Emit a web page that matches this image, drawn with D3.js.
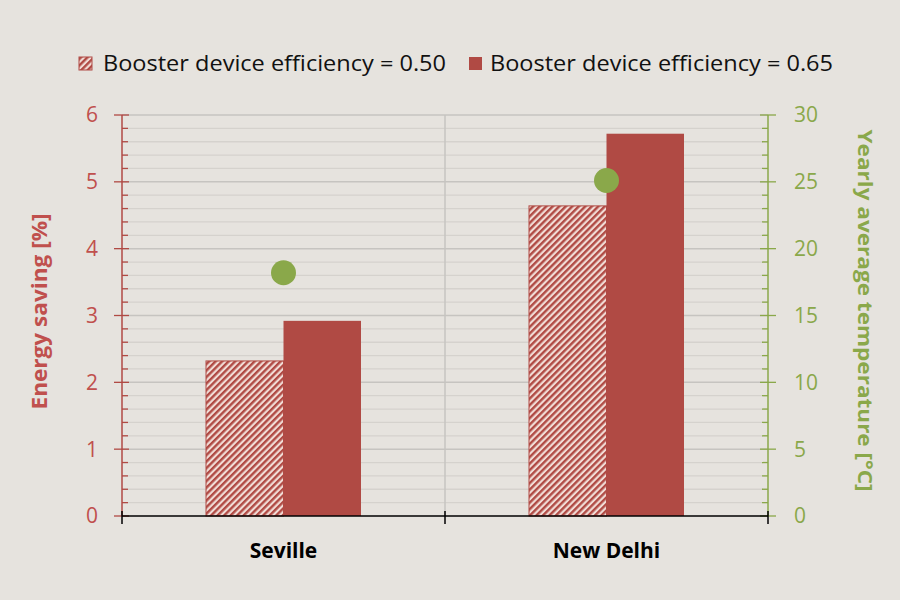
<!DOCTYPE html>
<html>
<head>
<meta charset="utf-8">
<script src="https://cdn.jsdelivr.net/npm/d3@7"></script>
<style>
  body { margin: 0; background: #e6e3de; }
  svg { display: block; font-family: "Open Sans", sans-serif; }
</style>
</head>
<body>
<div id="chart"></div>
<script>
// data
const cities = ['Seville', 'New Delhi'];
const series = ['Booster device efficiency = 0.50', 'Booster device efficiency = 0.65'];
const saving050 = [2.32, 4.64];
const saving065 = [2.92, 5.72];
const temperature = [18.2, 25.1];
const leftTicks = [0, 1, 2, 3, 4, 5, 6];
const rightTicks = [0, 5, 10, 15, 20, 25, 30];

const red = '#b04a44';
const redText = '#c0504d';
const green = '#8aa84a';

const margin = { top: 115, right: 132, bottom: 84, left: 122 };
const width = 900 - margin.left - margin.right;
const height = 600 - margin.top - margin.bottom;

const svg = d3.select('#chart')
    .append('svg')
    .attr('width', 900)
    .attr('height', 600);

svg.append('rect').attr('width', 900).attr('height', 600).attr('fill', '#e6e3de');

// hatch pattern
const defs = svg.append('defs');
const pat = defs.append('pattern')
    .attr('id', 'hatch')
    .attr('patternUnits', 'userSpaceOnUse')
    .attr('width', 4.6)
    .attr('height', 4.6)
    .attr('patternTransform', 'rotate(45)');
pat.append('rect').attr('width', 4.6).attr('height', 4.6).attr('fill', '#f1dcd6');
pat.append('line')
    .attr('x1', 1.2).attr('x2', 1.2)
    .attr('y1', 0).attr('y2', 4.6)
    .attr('stroke', red)
    .attr('stroke-width', 2.4);

const group = svg.append('g')
    .attr('transform', 'translate(' + margin.left + ',' + margin.top + ')');

// scales
const xScale = d3.scaleBand().domain(cities).range([0, width]);
const xInner = d3.scaleBand().domain([0, 1]).range([0, 155]);
const yScale = d3.scaleLinear().domain([0, 6]).range([height, 0]);
const yRight = d3.scaleLinear().domain([0, 30]).range([height, 0]);

// gridlines
const minorVals = d3.range(0, 6.001, 0.2).filter(v => Math.abs(v - Math.round(v)) > 0.01);
group.append('g')
    .selectAll('line')
    .data(minorVals)
    .join('line')
    .attr('x1', 0).attr('x2', width)
    .attr('y1', d => yScale(d)).attr('y2', d => yScale(d))
    .attr('stroke', '#d5d2cd')
    .attr('stroke-width', 1.3);
group.append('g')
    .selectAll('line')
    .data(leftTicks.slice(1))
    .join('line')
    .attr('x1', 0).attr('x2', width)
    .attr('y1', d => yScale(d)).attr('y2', d => yScale(d))
    .attr('stroke', '#c6c4c0')
    .attr('stroke-width', 1.5);
group.append('line')
    .attr('x1', xScale.step()).attr('x2', xScale.step())
    .attr('y1', 0).attr('y2', height)
    .attr('stroke', '#c6c4c0')
    .attr('stroke-width', 1.5);

// bars
const barOffset = (xScale.bandwidth() - xInner.range()[1]) / 2;
const bars = group.append('g');
bars.selectAll('rect.b050')
    .data(saving050)
    .join('rect')
    .attr('class', 'b050')
    .attr('x', (d, i) => xScale(cities[i]) + barOffset + xInner(0))
    .attr('width', xInner.bandwidth())
    .attr('y', d => yScale(d))
    .attr('height', d => height - yScale(d))
    .attr('fill', 'url(#hatch)')
    .attr('stroke', red)
    .attr('stroke-width', 1);
bars.selectAll('rect.b065')
    .data(saving065)
    .join('rect')
    .attr('class', 'b065')
    .attr('x', (d, i) => xScale(cities[i]) + barOffset + xInner(1))
    .attr('width', xInner.bandwidth())
    .attr('y', d => yScale(d))
    .attr('height', d => height - yScale(d))
    .attr('fill', red);

// temperature dots
group.append('g')
    .selectAll('circle')
    .data(temperature)
    .join('circle')
    .attr('cx', (d, i) => xScale(cities[i]) + xScale.bandwidth() / 2)
    .attr('cy', d => yRight(d))
    .attr('r', 12.5)
    .attr('fill', green);

// left axis
const leftAxis = group.append('g');
leftAxis.append('line')
    .attr('x1', 0).attr('x2', 0).attr('y1', 0).attr('y2', height)
    .attr('stroke', red).attr('stroke-width', 1.5);
leftAxis.selectAll('line.minor')
    .data(minorVals)
    .join('line')
    .attr('class', 'minor')
    .attr('x1', 0).attr('x2', 6)
    .attr('y1', d => yScale(d)).attr('y2', d => yScale(d))
    .attr('stroke', red).attr('stroke-width', 1.3);
leftAxis.selectAll('line.major')
    .data(leftTicks)
    .join('line')
    .attr('class', 'major')
    .attr('x1', -8).attr('x2', 7)
    .attr('y1', d => yScale(d)).attr('y2', d => yScale(d))
    .attr('stroke', red).attr('stroke-width', 1.3);
leftAxis.selectAll('text')
    .data(leftTicks)
    .join('text')
    .attr('x', -24)
    .attr('y', d => yScale(d))
    .attr('dy', '0.35em')
    .attr('text-anchor', 'end')
    .attr('font-size', 21)
    .attr('fill', redText)
    .text(d => d);

// right axis
const rightAxis = group.append('g').attr('transform', 'translate(' + width + ',0)');
rightAxis.append('line')
    .attr('x1', 0).attr('x2', 0).attr('y1', 0).attr('y2', height)
    .attr('stroke', green).attr('stroke-width', 1.5);
const rightMinor = d3.range(0, 30.001, 1).filter(v => v % 5 !== 0);
rightAxis.selectAll('line.minor')
    .data(rightMinor)
    .join('line')
    .attr('class', 'minor')
    .attr('x1', -6).attr('x2', 0)
    .attr('y1', d => yRight(d)).attr('y2', d => yRight(d))
    .attr('stroke', green).attr('stroke-width', 1.3);
rightAxis.selectAll('line.major')
    .data(rightTicks)
    .join('line')
    .attr('class', 'major')
    .attr('x1', -8).attr('x2', 8)
    .attr('y1', d => yRight(d)).attr('y2', d => yRight(d))
    .attr('stroke', green).attr('stroke-width', 1.3);
rightAxis.selectAll('text')
    .data(rightTicks)
    .join('text')
    .attr('x', 26)
    .attr('y', d => yRight(d))
    .attr('dy', '0.35em')
    .attr('text-anchor', 'start')
    .attr('font-size', 21)
    .attr('fill', green)
    .text(d => d);

// x axis
const xAxis = group.append('g').attr('transform', 'translate(0,' + height + ')');
xAxis.append('line')
    .attr('x1', 0).attr('x2', width)
    .attr('stroke', '#000').attr('stroke-width', 1.5);
xAxis.selectAll('line.tick')
    .data([0, 1, 2])
    .join('line')
    .attr('class', 'tick')
    .attr('x1', d => d * xScale.step()).attr('x2', d => d * xScale.step())
    .attr('y1', -5).attr('y2', 8)
    .attr('stroke', '#000').attr('stroke-width', 1.5);
xAxis.selectAll('text')
    .data(cities)
    .join('text')
    .attr('x', d => xScale(d) + xScale.bandwidth() / 2)
    .attr('y', 42)
    .attr('text-anchor', 'middle')
    .attr('font-size', 21)
    .attr('font-weight', 'bold')
    .attr('fill', '#000')
    .text(d => d);

// axis titles
svg.append('text')
    .attr('transform', 'translate(47,' + (margin.top + height / 2 - 4) + ') rotate(-90)')
    .attr('text-anchor', 'middle')
    .attr('font-size', 21)
    .attr('font-weight', 'bold')
    .attr('fill', redText)
    .attr('textLength', 196)
    .attr('lengthAdjust', 'spacingAndGlyphs')
    .text('Energy saving [%]');
svg.append('text')
    .attr('transform', 'translate(858,' + (margin.top + height / 2 - 5) + ') rotate(90)')
    .attr('text-anchor', 'middle')
    .attr('font-size', 20)
    .attr('font-weight', 'bold')
    .attr('fill', green)
    .attr('textLength', 362)
    .attr('lengthAdjust', 'spacingAndGlyphs')
    .text('Yearly average temperature [°C]');

// legend
const legendItems = [
    { label: series[0], fill: 'url(#hatch)', x: 79, tx: 103 },
    { label: series[1], fill: red, x: 469, tx: 490 }
];
const legend = svg.append('g');
legend.selectAll('rect')
    .data(legendItems)
    .join('rect')
    .attr('x', d => d.x)
    .attr('y', 57)
    .attr('width', 13)
    .attr('height', 13)
    .attr('fill', d => d.fill)
    .attr('stroke', red)
    .attr('stroke-width', (d, i) => i === 0 ? 1 : 0);
legend.selectAll('text')
    .data(legendItems)
    .join('text')
    .attr('x', d => d.tx)
    .attr('y', 71)
    .attr('font-size', 22)
    .attr('fill', '#111')
    .attr('textLength', 343)
    .attr('lengthAdjust', 'spacingAndGlyphs')
    .text(d => d.label);
</script>
</body>
</html>
